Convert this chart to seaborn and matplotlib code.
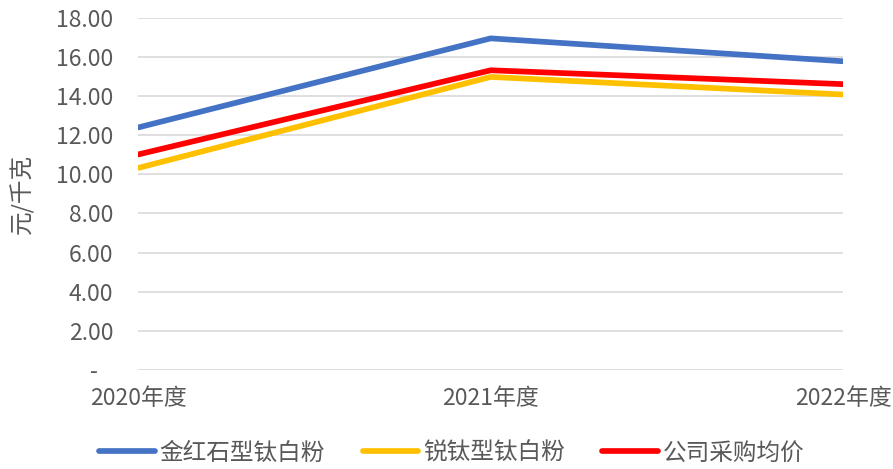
import pandas as pd
import matplotlib
matplotlib.use("Agg")
import matplotlib.pyplot as plt
import seaborn as sns

# 数据
years = ["2020年度", "2021年度", "2022年度"]
rutile = [12.40, 16.95, 15.78]
anatase = [10.33, 14.98, 14.08]
company = [11.02, 15.32, 14.61]
series_names = ["金红石型钛白粉", "锐钛型钛白粉", "公司采购均价"]
colors = ["#4472C4", "#FFC000", "#FF0000"]

df = pd.DataFrame({
    "年度": years * 3,
    "价格": rutile + anatase + company,
    "系列": [series_names[0]] * 3 + [series_names[1]] * 3 + [series_names[2]] * 3,
})

sns.set_style("white")
plt.rcParams['font.family'] = ['Noto Sans CJK SC', 'DejaVu Sans']

fig = plt.figure(figsize=(8.93, 4.69), dpi=100)
ax = fig.add_axes([0.155, 0.211, 0.789, 0.751])

sns.lineplot(data=df, x="年度", y="价格", hue="系列", palette=colors,
             linewidth=4.1, sort=False, ax=ax, legend=False)

ax.set_ylim(0, 18)
ax.set_xlim(0, 2)
ticks = [0, 2, 4, 6, 8, 10, 12, 14, 16, 18]
ax.set_yticks(ticks)
ax.set_yticklabels(["-   "] + [f"{t:.2f}" for t in ticks[1:]])
ax.yaxis.grid(True, color="#D9D9D9", linewidth=1.2)
ax.set_axisbelow(True)
for s in ax.spines.values():
    s.set_visible(False)
ax.tick_params(axis="both", length=0, labelsize=16.5, colors="#595959")
ax.tick_params(axis="x", pad=12)
ax.tick_params(axis="y", pad=18)
ax.set_xlabel("")
ax.set_ylabel("元/千克", fontsize=17, color="#595959")
ax.yaxis.set_label_coords(-0.148, 0.5)

handles = [plt.Line2D([], [], color=c, linewidth=4.1, solid_capstyle="round") for c in colors]
fig.legend(handles, series_names, loc="center", ncol=3, frameon=False,
           fontsize=17, labelcolor="#595959", handlelength=2.35,
           handletextpad=0.2, columnspacing=1.6, bbox_to_anchor=(0.506, 0.034))

fig.savefig("out.png", dpi=100)
